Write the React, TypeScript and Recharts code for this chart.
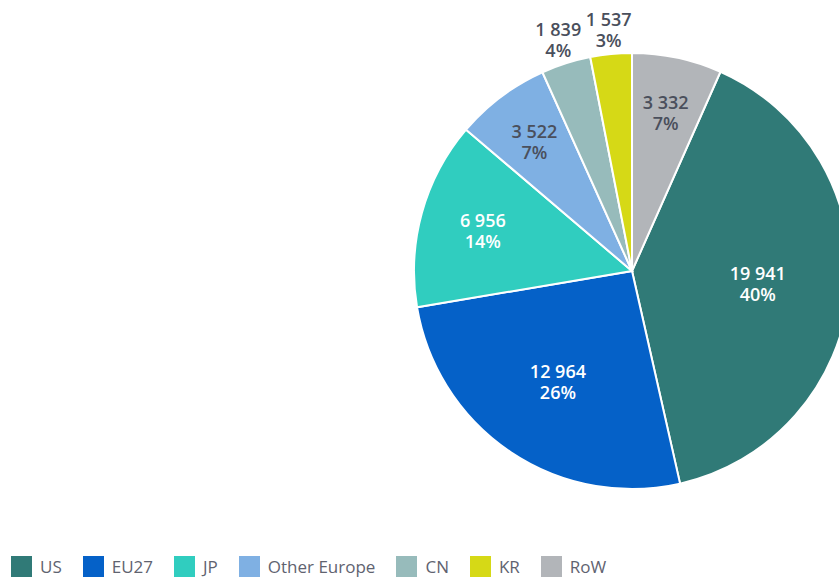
import React from 'react';
import { PieChart, Pie, Cell, Legend } from 'recharts';

const categories = ['US', 'EU27', 'JP', 'Other Europe', 'CN', 'KR', 'RoW'];
const values = [19941, 12964, 6956, 3522, 1839, 1537, 3332];
const colors = ['#307a77', '#0561c8', '#30cdbf', '#7fb0e3', '#97bbbb', '#d6d916', '#b2b5b9'];
const lightLabel = ['US', 'EU27', 'JP'];

const data = categories.map((name, i) => ({ name, value: values[i] }));
const total = values.reduce((a, b) => a + b, 0);
const lastShare = values[values.length - 1] / total;
const startAngle = 90 - lastShare * 360;

const FONT = '"Open Sans", "Noto Sans", sans-serif';
const RADIAN = Math.PI / 180;

const fmt = (v: number) => v.toString().replace(/\B(?=(\d{3})+(?!\d))/g, ' ');

const renderLabel = (props: any) => {
  const { cx, cy, midAngle, outerRadius, percent, value, name } = props;
  let f;
  if (percent < 0.05) f = 1.115;
  else if (percent > 0.35) f = 0.58;
  else if (percent > 0.2) f = 0.61;
  else if (percent > 0.1) f = 0.71;
  else f = 0.745;
  const r = outerRadius * f;
  const x = cx + r * Math.cos(-midAngle * RADIAN);
  const y = cy + r * Math.sin(-midAngle * RADIAN);
  const fill = lightLabel.includes(name) ? '#ffffff' : '#4a4f5c';
  return (
    <text
      x={x}
      y={y}
      textAnchor="middle"
      fill={fill}
      fontFamily={FONT}
      fontSize={18}
      fontWeight={600}
    >
      <tspan x={x} dy={-3}>{fmt(value)}</tspan>
      <tspan x={x} dy={21}>{Math.round(percent * 100) + '%'}</tspan>
    </text>
  );
};

const renderLegend = () => (
  <div style={{ display: 'flex', alignItems: 'center', fontFamily: FONT, fontSize: 17, color: '#5f6370' }}>
    {categories.map((c, i) => (
      <div key={c} style={{ display: 'flex', alignItems: 'center', marginRight: 21 }}>
        <div style={{ width: 21, height: 21, background: colors[i], marginRight: 8 }} />
        <span>{c}</span>
      </div>
    ))}
  </div>
);

export default function App() {
  return (
    <div style={{ position: 'absolute', left: 0, top: 0, width: 839, height: 577, background: '#fff' }}>
      <PieChart width={839} height={577} margin={{ top: 0, right: 0, bottom: 0, left: 0 }}>
        <Pie
          data={data}
          dataKey="value"
          nameKey="name"
          cx={632}
          cy={271}
          outerRadius={218}
          startAngle={startAngle}
          endAngle={startAngle - 360}
          stroke="#ffffff"
          strokeWidth={2}
          label={renderLabel}
          labelLine={false}
          isAnimationActive={false}
        >
          {data.map((d, i) => (
            <Cell key={d.name} fill={colors[i]} />
          ))}
        </Pie>
        <Legend
          content={renderLegend}
          wrapperStyle={{ position: 'absolute', left: 11, top: 555, width: 'auto', height: 21 }}
        />
      </PieChart>
    </div>
  );
}
